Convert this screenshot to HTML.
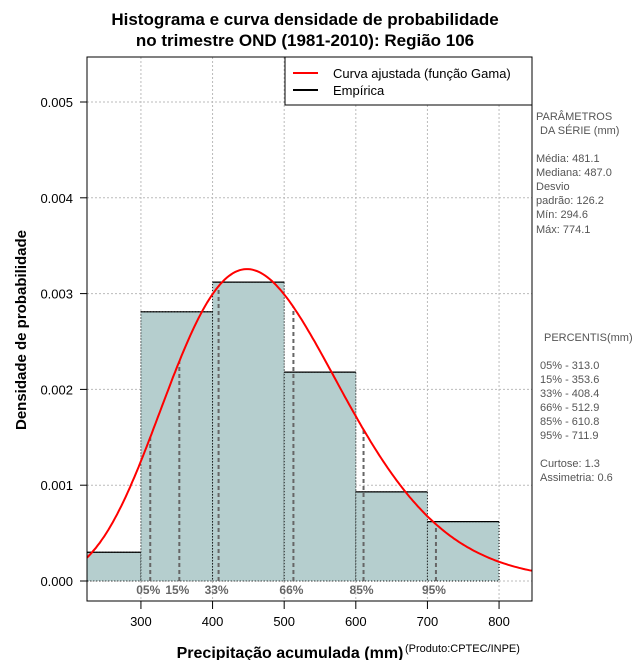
<!DOCTYPE html>
<html><head><meta charset="utf-8"><style>
body{margin:0;background:#fff;}
svg{display:block;font-family:"Liberation Sans",sans-serif;}
</style></head><body>
<svg id="c" width="640" height="660" xmlns="http://www.w3.org/2000/svg">
<text x="305" y="25" text-anchor="middle" font-size="17" font-weight="bold">Histograma e curva densidade de probabilidade</text>
<text x="305" y="46" text-anchor="middle" font-size="17" font-weight="bold">no trimestre OND (1981-2010): Região 106</text>
<text transform="translate(26,330) rotate(-90)" text-anchor="middle" font-size="15" font-weight="bold">Densidade de probabilidade</text>
<text x="290" y="658" text-anchor="middle" font-size="16" font-weight="bold">Precipitação acumulada (mm)</text>
<text x="405" y="652" font-size="11">(Produto:CPTEC/INPE)</text>
<g id="grid"></g><g id="bars"></g><g id="pct"></g><g id="curve"></g><g id="axes"></g>
<g>
<rect x="285" y="57" width="247" height="48" fill="#fff" stroke="#000"/>
<line x1="293" y1="73" x2="318" y2="73" stroke="red" stroke-width="2"/>
<text x="333" y="78" font-size="13">Curva ajustada (função Gama)</text>
<line x1="293" y1="90" x2="318" y2="90" stroke="#000" stroke-width="2"/>
<text x="333" y="95" font-size="13">Empírica</text>
</g>
<g font-size="11" fill="#555">
<text x="536" y="120">PARÂMETROS</text><text x="540" y="134">DA SÉRIE (mm)</text>
<text x="536" y="162">Média:  481.1</text><text x="536" y="176">Mediana:  487.0</text>
<text x="536" y="190">Desvio</text><text x="536" y="204">padrão:  126.2</text>
<text x="536" y="218">Mín:  294.6</text><text x="536" y="233">Máx:  774.1</text>
<text x="544" y="341">PERCENTIS(mm)</text>
<text x="540" y="369">05% -  313.0</text><text x="540" y="383">15% -  353.6</text>
<text x="540" y="397">33% -  408.4</text><text x="540" y="411">66% -  512.9</text>
<text x="540" y="425">85% -  610.8</text><text x="540" y="439">95% -  711.9</text>
<text x="540" y="467">Curtose:  1.3</text><text x="540" y="481">Assimetria:  0.6</text>
</g>
</svg>
<script>
const binStarts=[200,300,400,500,600,700];
const binDensity=[0.0003,0.00281,0.00312,0.00218,0.00093,0.00062];
const binWidth=100;
const gammaParams=[481.1,126.2];
const pctLabels=["05%","15%","33%","66%","85%","95%"];
const pctValues=[313.0,353.6,408.4,512.9,610.8,711.9];
const xTicks=[300,400,500,600,700,800];
const yTicks=[0,0.001,0.002,0.003,0.004,0.005];
const yTickLabels=["0.000","0.001","0.002","0.003","0.004","0.005"];
const L=87,R=532,T=57,B=601;
const xmin=224.7,xmax=846;
const X=v=>L+(v-xmin)/(xmax-xmin)*(R-L);
const Y=v=>581-v/0.001*95.8;
const NS="http://www.w3.org/2000/svg";
function mk(p,t,a){const e=document.createElementNS(NS,t);for(const k in a)e.setAttribute(k,a[k]);p.appendChild(e);return e;}
const svg=document.getElementById('c');
const defs=mk(svg,'defs',{});const cp=mk(defs,'clipPath',{id:'pc'});mk(cp,'rect',{x:L,y:T,width:R-L,height:B-T});
const grid=document.getElementById('grid');
xTicks.forEach(t=>{const l=mk(grid,'line',{x1:X(t),x2:X(t),y1:T,y2:B,stroke:'#bbb','stroke-dasharray':'2,2'});
});
yTicks.forEach(t=>{const l=mk(grid,'line',{x1:L,x2:R,y1:Y(t),y2:Y(t),stroke:'#bbb','stroke-dasharray':'2,2'});
});
const bars=document.getElementById('bars');bars.setAttribute('clip-path','url(#pc)');
binStarts.forEach((s,i)=>{const x0=X(s),x1=X(s+binWidth),y=Y(binDensity[i]);
const r=mk(bars,'rect',{x:x0,y:y,width:x1-x0,height:Y(0)-y,fill:'#b5cece',stroke:'#000','stroke-dasharray':'1,2','stroke-width':1});

mk(bars,'line',{x1:x0,x2:x1,y1:y,y2:y,stroke:'#000','stroke-width':1.2});});
const k=Math.pow(gammaParams[0]/gammaParams[1],2),th=gammaParams[1]*gammaParams[1]/gammaParams[0];
function lgam(z){const c=[76.18009172947146,-86.50532032941677,24.01409824083091,-1.231739572450155,0.1208650973866179e-2,-0.5395239384953e-5];let x=z,y=z,t=x+5.5;t-=(x+0.5)*Math.log(t);let s=1.000000000190015;for(let j=0;j<6;j++)s+=c[j]/++y;return -t+Math.log(2.5066282746310005*s/x);}
const pdf=v=>Math.exp((k-1)*Math.log(v)-v/th-lgam(k)-k*Math.log(th));
const pct=document.getElementById('pct');
pctValues.forEach((v,i)=>{const l=mk(pct,'line',{x1:X(v),x2:X(v),y1:Y(0),y2:Y(pdf(v)),stroke:'#666','stroke-width':2,'stroke-dasharray':'4,3'});

const t=mk(pct,'text',{x:X(v)-14,y:594,'font-size':12,'font-weight':'bold',fill:'#666'});t.textContent=pctLabels[i];
});
const cg=document.getElementById('curve');cg.setAttribute('clip-path','url(#pc)');
let d='';for(let v=xmin;v<=xmax;v+=3){d+=(d?'L':'M')+X(v).toFixed(1)+','+Y(pdf(v)).toFixed(1);}
const pth=mk(cg,'path',{d:d,fill:'none',stroke:'red','stroke-width':2});

const ax=document.getElementById('axes');
mk(ax,'rect',{x:L,y:T,width:R-L,height:B-T,fill:'none',stroke:'#000'});
xTicks.forEach(t=>{mk(ax,'line',{x1:X(t),x2:X(t),y1:B,y2:B+8,stroke:'#000'});
const tx=mk(ax,'text',{x:X(t),y:626,'text-anchor':'middle','font-size':13});tx.textContent=t;
});
yTicks.forEach((t,i)=>{mk(ax,'line',{x1:L-7,x2:L,y1:Y(t),y2:Y(t),stroke:'#000'});
const tx=mk(ax,'text',{x:73,y:Y(t)+5,'text-anchor':'end','font-size':13});tx.textContent=yTickLabels[i];
});
</script>
</body></html>
